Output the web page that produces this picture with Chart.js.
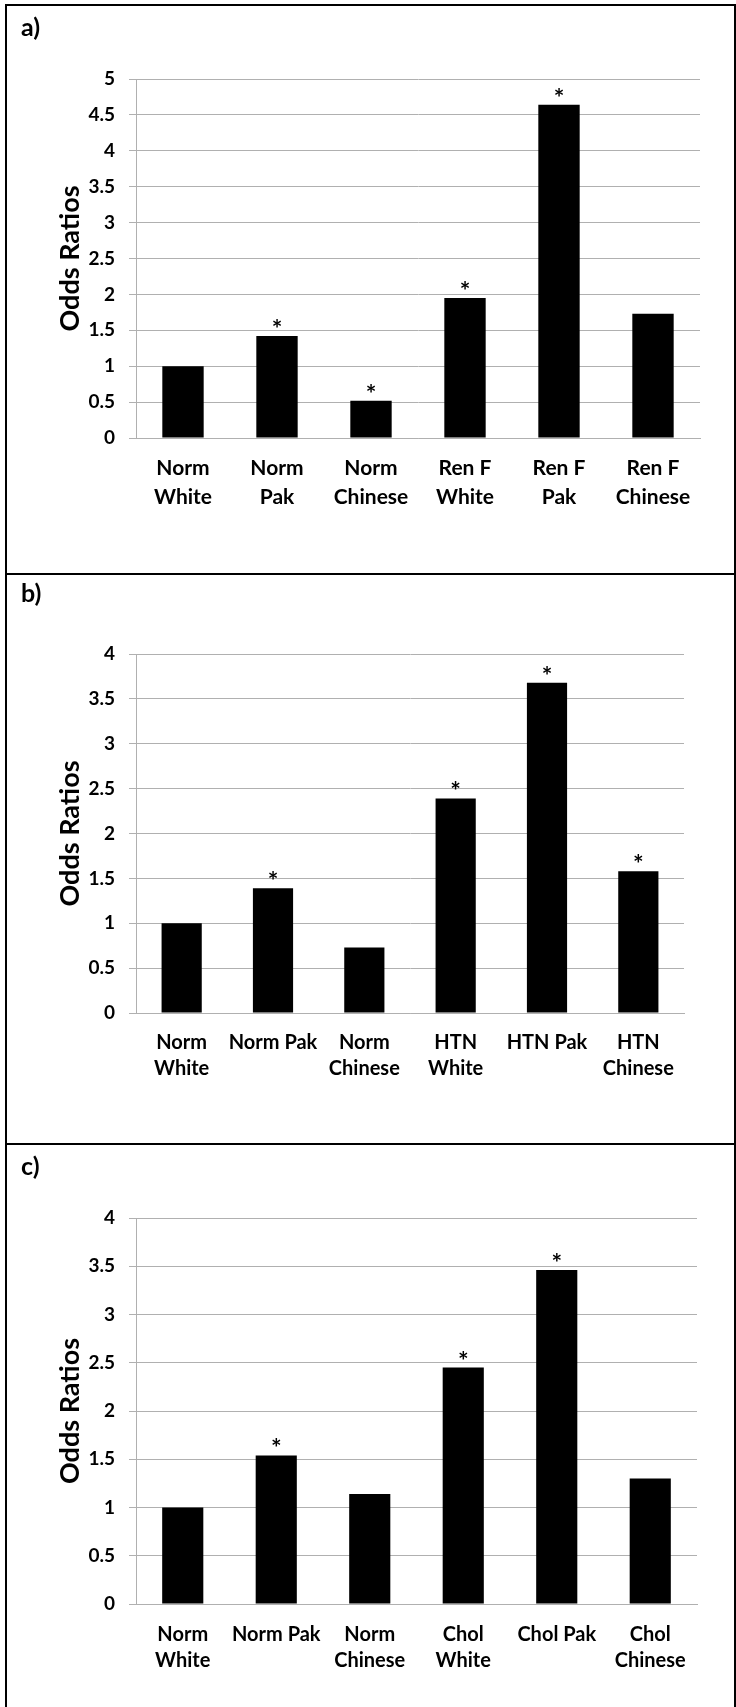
<!DOCTYPE html>
<html>
<head>
<meta charset="utf-8">
<script src="https://cdn.jsdelivr.net/npm/chart.js@4.4.1/dist/chart.umd.min.js"></script>
<style>
    body { margin: 0; background: #fff; }
    #page { position: relative; width: 736px; height: 1707px; overflow: hidden; background: #fff; }
    canvas { position: absolute; left: 0; }
    .line { position: absolute; background: #000; }
    .tag { position: absolute; font: bold 25px Lato, sans-serif; line-height: 25px; color: #000; }
</style>
</head>
<body>
<div id="page">
    <canvas id="chartA" width="736" height="574" style="top:0px"></canvas>
    <canvas id="chartB" width="736" height="570" style="top:574px"></canvas>
    <canvas id="chartC" width="736" height="563" style="top:1144px"></canvas>

    <div class="line" style="left:5px;top:4px;width:731px;height:2px"></div>
    <div class="line" style="left:5px;top:573px;width:731px;height:2px"></div>
    <div class="line" style="left:5px;top:1143px;width:731px;height:2px"></div>
    <div class="line" style="left:5px;top:4px;width:2px;height:1703px"></div>
    <div class="line" style="left:734px;top:4px;width:2px;height:1703px"></div>

    <div class="tag" style="left:21px;top:14px">a)</div>
    <div class="tag" style="left:21px;top:580px">b)</div>
    <div class="tag" style="left:21px;top:1153px">c)</div>
</div>

<script>
// a) renal failure
const categoriesA = [['Norm', 'White'], ['Norm', 'Pak'], ['Norm', 'Chinese'], ['Ren F', 'White'], ['Ren F', 'Pak'], ['Ren F', 'Chinese']];
const oddsA = [1.0, 1.42, 0.52, 1.95, 4.64, 1.73];
const starsA = [false, true, true, true, true, false];

// b) hypertension
const categoriesB = [['Norm', 'White'], 'Norm Pak', ['Norm', 'Chinese'], ['HTN', 'White'], 'HTN Pak', ['HTN', 'Chinese']];
const oddsB = [1.0, 1.39, 0.73, 2.39, 3.68, 1.58];
const starsB = [false, true, false, true, true, true];

// c) cholesterol
const categoriesC = [['Norm', 'White'], 'Norm Pak', ['Norm', 'Chinese'], ['Chol', 'White'], 'Chol Pak', ['Chol', 'Chinese']];
const oddsC = [1.0, 1.54, 1.14, 2.45, 3.46, 1.30];
const starsC = [false, true, false, true, true, false];

const yMaxA = 5;
const yMaxB = 4;
const yMaxC = 4;
const yStep = 0.5;

const gridGray = '#b0b0b0';

// draws the * above significant bars
const starPlugin = {
    id: 'stars',
    afterDatasetsDraw(chart, args, opts) {
        const ctx = chart.ctx;
        const meta = chart.getDatasetMeta(0);
        ctx.save();
        ctx.font = 'bold 25px Lato';
        ctx.fillStyle = '#000';
        ctx.textAlign = 'center';
        ctx.textBaseline = 'alphabetic';
        meta.data.forEach(function (bar, i) {
            if (opts.marks[i]) {
                ctx.fillText('*', bar.x, bar.y + 2);
            }
        });
        ctx.restore();
    }
};

function makeChart(id, labels, values, marks, yMax, layout, xFont) {
    return new Chart(document.getElementById(id).getContext('2d'), {
        type: 'bar',
        data: {
            labels: labels,
            datasets: [{
                data: values,
                backgroundColor: '#000',
                borderWidth: 0,
                barPercentage: 0.44,
                categoryPercentage: 1
            }]
        },
        options: {
            responsive: false,
            animation: false,
            devicePixelRatio: 1,
            layout: {
                padding: { top: layout.top, right: layout.right, bottom: layout.bottom, left: 0 }
            },
            plugins: {
                legend: { display: false },
                tooltip: { enabled: false },
                stars: { marks: marks }
            },
            scales: {
                x: {
                    grid: { display: false },
                    border: { display: true, color: gridGray, width: 1 },
                    ticks: {
                        color: '#000',
                        maxRotation: 0,
                        autoSkip: false,
                        padding: xFont.padding,
                        font: { family: 'Lato', weight: 'bold', size: xFont.size, lineHeight: xFont.lineHeight }
                    },
                    afterFit: function (scale) { scale.height = 80; }
                },
                y: {
                    min: 0,
                    max: yMax,
                    grid: { color: gridGray, lineWidth: 1, drawTicks: true, tickLength: 7 },
                    border: { display: true, color: gridGray, width: 1 },
                    ticks: {
                        stepSize: yStep,
                        color: '#000',
                        padding: 14,
                        font: { family: 'Lato', weight: 'bold', size: 19 },
                        callback: function (value) { return String(value); }
                    },
                    title: {
                        display: true,
                        text: 'Odds Ratios',
                        color: '#000',
                        font: { family: 'Lato', weight: 'bold', size: 27, lineHeight: 1.2 },
                        padding: { top: 54, bottom: 0 }
                    },
                    afterFit: function (scale) { scale.width = 136; }
                }
            }
        },
        plugins: [starPlugin]
    });
}

makeChart('chartA', categoriesA, oddsA, starsA, yMaxA,
    { top: 79, right: 36, bottom: 574 - 438 - 80 },
    { size: 21, lineHeight: 29 / 21, padding: 8 });
makeChart('chartB', categoriesB, oddsB, starsB, yMaxB,
    { top: 80, right: 52, bottom: 570 - 439 - 80 },
    { size: 20, lineHeight: 26 / 20, padding: 9 });
makeChart('chartC', categoriesC, oddsC, starsC, yMaxC,
    { top: 74, right: 39, bottom: 563 - 460 - 80 },
    { size: 20, lineHeight: 26 / 20, padding: 10 });
</script>
</body>
</html>
